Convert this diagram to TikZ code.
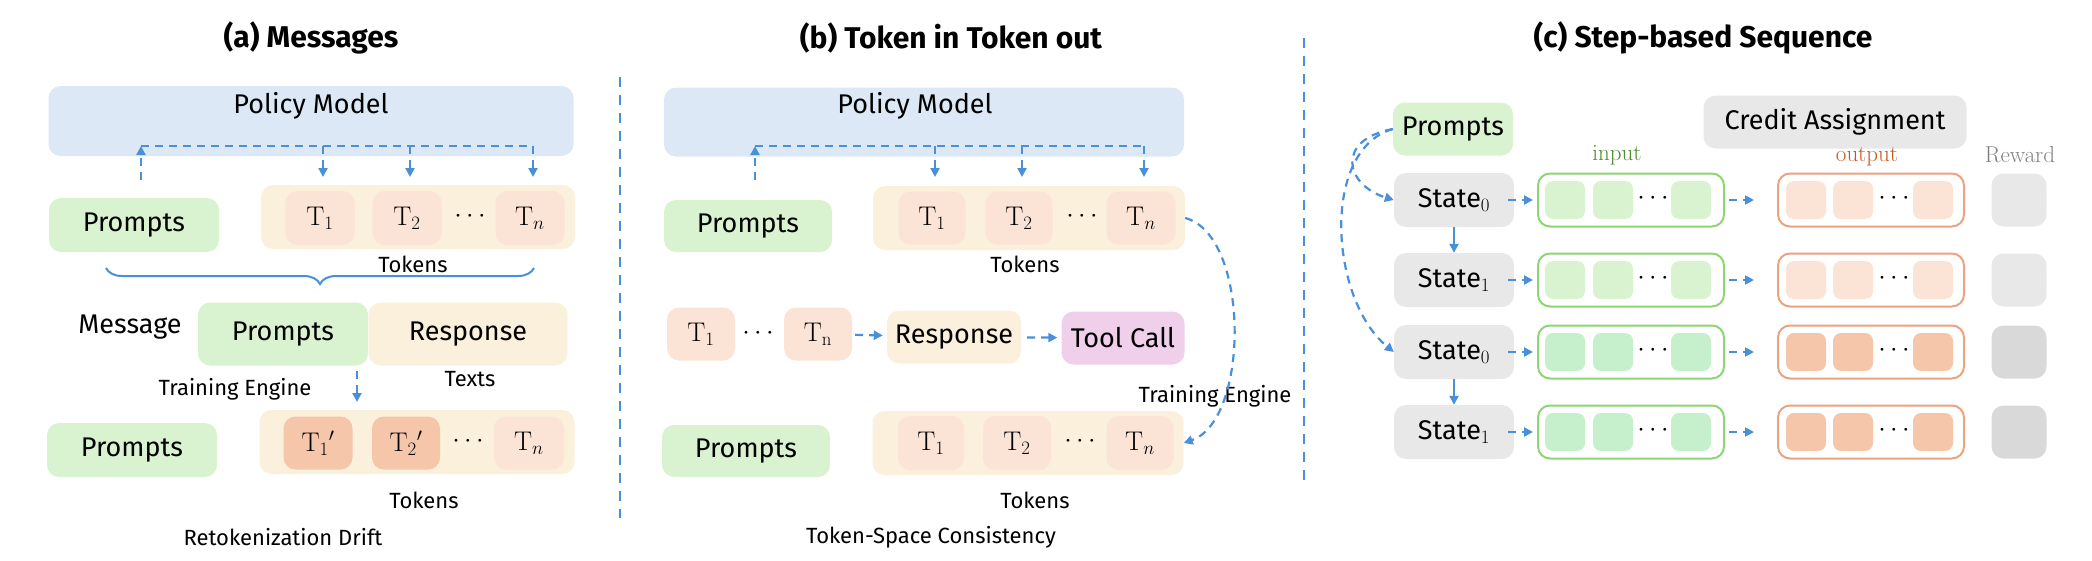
\RequirePackage{fix-cm}
\documentclass[tikz,border=0pt]{standalone}
\usepackage[no-math]{fontspec}
\setmainfont{Fira Sans}
\usetikzlibrary{positioning, arrows.meta, decorations.pathreplacing}

\definecolor{policyblue}{HTML}{DCE8F5}
\definecolor{promptgreen}{HTML}{D9F2D0}
\definecolor{tokbg}{HTML}{FAF0DC}
\definecolor{tokcell}{HTML}{FBE3D6}
\definecolor{tokdark}{HTML}{F6C6AB}
\definecolor{toolpink}{HTML}{F0CFEA}
\definecolor{stategray}{HTML}{E8E8E8}
\definecolor{rewarddark}{HTML}{D9D9D9}
\definecolor{flowblue}{HTML}{4A90D9}
\definecolor{inframe}{HTML}{8BD672}
\definecolor{incell}{HTML}{C6EFCB}
\definecolor{outframe}{HTML}{EBA27F}
\definecolor{inlabel}{HTML}{4E8A2E}
\definecolor{outlabel}{HTML}{C8571D}

\tikzset{
  box/.style = {rounded corners=12pt, inner sep=0pt, align=center},
  title/.style = {font=\fontsize{30}{34}\selectfont\bfseries},
  big/.style = {font=\fontsize{27}{30}\selectfont},
  small/.style = {font=\fontsize{22}{26}\selectfont},
  serifnote/.style = {font=\fontsize{23}{26}\selectfont},
  flow/.style = {flowblue, line width=2.2pt, dash pattern=on 8pt off 6pt,
                 -{Triangle[length=9pt,width=9pt]}},
}

\begin{document}
\begin{tikzpicture}[x=1pt, y=-1pt]
  \useasboundingbox (0,0) rectangle (2092,560);

  % dividers
  \draw[flowblue, line width=2pt, dash pattern=on 10pt off 8pt] (620,77) -- (620,518);
  \draw[flowblue, line width=2pt, dash pattern=on 10pt off 8pt] (1304,38) -- (1304,480);

  % ---------------- (a) Messages
  \node[title] (titleA) at (311,38) {(a) Messages};
  \node[box, fill=policyblue, minimum width=525pt, minimum height=70pt] (policyA) at (311,121) {};
  \node[big] at (311,106) {Policy Model};
  \node[box, fill=promptgreen, minimum width=170pt, minimum height=54pt, big] (promptA) at (134,225) {Prompts};
  \node[box, fill=tokbg, minimum width=314pt, minimum height=64pt] (tokA) at (418,217) {};
  \node[box, fill=tokcell, minimum width=69pt, minimum height=54pt, big] (a1) at (320,218) {$\mathrm{T}_1$};
  \node[box, fill=tokcell, minimum width=69pt, minimum height=54pt, big] (a2) at (407,218) {$\mathrm{T}_2$};
  \node[big] (ad) at (470,216) {$\cdots$};
  \node[box, fill=tokcell, minimum width=69pt, minimum height=54pt, big] (an) at (530,218) {$\mathrm{T}_n$};
  \node[small] (tokLabA) at (413,264) {Tokens};
  \coordinate (hubA) at (141,146);
  \draw[flow] (141,180) -- (hubA);
  \draw[flowblue, line width=2.2pt, dash pattern=on 8pt off 6pt] (hubA) -- (533,146);
  \foreach \x in {323,410,533} \draw[flow] (\x,146) -- (\x,177);
  \draw[flowblue, line width=2pt, decorate, decoration={brace, mirror, amplitude=16pt}] (106,268) -- (534,268);

  \node[big] (msg) at (130,327) {Message};
  \node[box, fill=promptgreen, minimum width=170pt, minimum height=63pt, big] (promptA2) at (283,334) {Prompts};
  \node[box, fill=tokbg, minimum width=199pt, minimum height=63pt, big] (respA) at (468,334) {Response};
  \node[small] (textsA) at (470,379) {Texts};
  \node[small] (trainA) at (235,389) {Training Engine};
  \coordinate (dropA) at (357,371);
  \draw[flow] (dropA) -- (357,402);

  \node[box, fill=promptgreen, minimum width=170pt, minimum height=54pt, big] (promptA3) at (132,450) {Prompts};
  \node[box, fill=tokbg, minimum width=315pt, minimum height=64pt] (tokA3) at (417,442) {};
  \node[box, fill=tokdark, minimum width=69pt, minimum height=53pt, big] (b1) at (318,443) {$\mathrm{T}_1{}'$};
  \node[box, fill=tokdark, minimum width=68pt, minimum height=53pt, big] (b2) at (406,443) {$\mathrm{T}_2{}'$};
  \node[big] (bd) at (468,441) {$\cdots$};
  \node[box, fill=tokcell, minimum width=70pt, minimum height=53pt, big] (bn) at (529,443) {$\mathrm{T}_n$};
  \node[small] (tokLabA3) at (424,500) {Tokens};
  \node[small] (driftA) at (283,537) {Retokenization Drift};

  % ---------------- (b) Token in Token out
  \node[title] (titleB) at (951,38) {(b) Token in Token out};
  \node[box, fill=policyblue, minimum width=520pt, minimum height=69pt] (policyB) at (924,122) {};
  \node[big] at (915,106) {Policy Model};
  \node[box, fill=promptgreen, minimum width=168pt, minimum height=52pt, big] (promptB) at (748,226) {Prompts};
  \node[box, fill=tokbg, minimum width=312pt, minimum height=64pt] (tokB) at (1029,218) {};
  \node[box, fill=tokcell, minimum width=67pt, minimum height=53pt, big] (c1) at (932,218) {$\mathrm{T}_1$};
  \node[box, fill=tokcell, minimum width=67pt, minimum height=53pt, big] (c2) at (1019,218) {$\mathrm{T}_2$};
  \node[big] (cd) at (1082,216) {$\cdots$};
  \node[box, fill=tokcell, minimum width=69pt, minimum height=53pt, big] (cn) at (1141,218) {$\mathrm{T}_n$};
  \node[small] (tokLabB) at (1025,264) {Tokens};
  \coordinate (hubB) at (755,146);
  \draw[flow] (755,180) -- (hubB);
  \draw[flowblue, line width=2.2pt, dash pattern=on 8pt off 6pt] (hubB) -- (1144,146);
  \foreach \x in {935,1022,1144} \draw[flow] (\x,146) -- (\x,177);

  \node[box, fill=tokcell, minimum width=68pt, minimum height=53pt, big] (d1) at (701,334) {$\mathrm{T}_1$};
  \node[big] (dd) at (758,333) {$\cdots$};
  \node[box, fill=tokcell, minimum width=68pt, minimum height=53pt, big] (dn) at (818,334) {$\mathrm{T}_\mathrm{n}$};
  \node[box, fill=tokbg, minimum width=134pt, minimum height=53pt, big] (respB) at (954,337) {Response};
  \node[box, fill=toolpink, minimum width=123pt, minimum height=53pt, big] (toolB) at (1123,338) {Tool Call};
  \draw[flow, shorten <=3pt, shorten >=4pt] (dn) -- (respB);
  \draw[flow, shorten <=6pt, shorten >=4pt] (respB) -- (toolB);

  \node[box, fill=promptgreen, minimum width=168pt, minimum height=52pt, big] (promptB3) at (746,451) {Prompts};
  \node[box, fill=tokbg, minimum width=311pt, minimum height=64pt] (tokB3) at (1028,443) {};
  \node[box, fill=tokcell, minimum width=66pt, minimum height=54pt, big] (e1) at (931,443) {$\mathrm{T}_1$};
  \node[box, fill=tokcell, minimum width=68pt, minimum height=54pt, big] (e2) at (1017,443) {$\mathrm{T}_2$};
  \node[big] (ed) at (1080,441) {$\cdots$};
  \node[box, fill=tokcell, minimum width=67pt, minimum height=54pt, big] (en) at (1140,443) {$\mathrm{T}_n$};
  \node[small] (tokLabB3) at (1035,500) {Tokens};
  \node[small] (consB) at (931,537) {Token-Space Consistency};
  \node[small] (trainB) at (1215,396) {Training Engine};
  \draw[flow] (tokB.east) .. controls (1250,235) and (1250,420) .. (tokB3.east);

  % ---------------- (c) Step-based Sequence
  \node[title] (titleC) at (1703,38) {(c) Step-based Sequence};
  \node[box, fill=promptgreen, minimum width=120pt, minimum height=53pt, big] (promptC) at (1453,129) {Prompts};
  \node[box, fill=stategray, minimum width=263pt, minimum height=53pt, big] (credit) at (1835,122) {Credit Assignment};
  \node[serifnote, text=inlabel] (inLab) at (1617,155) {$\mathrm{input}$};
  \node[serifnote, text=outlabel] (outLab) at (1867,157) {$\mathrm{output}$};
  \node[serifnote, text=gray] (rewLab) at (2020,155) {$\mathrm{Reward}$};

  \foreach \i/\y/\s/\ic/\oc/\rc in {1/200/0/promptgreen/tokcell/stategray,
                                    2/280/1/promptgreen/tokcell/stategray,
                                    3/352/0/incell/tokdark/rewarddark,
                                    4/432/1/incell/tokdark/rewarddark} {
    \node[box, fill=stategray, minimum width=120pt, minimum height=54pt, big] (state\i) at (1454,\y) {State$_{\s}$};
    \node[box, draw=inframe, line width=2pt, minimum width=186pt, minimum height=53pt] (in\i) at (1631,\y) {};
    \foreach \x in {1565,1613,1691}
      \node[box, rounded corners=8pt, fill=\ic, minimum width=40pt, minimum height=38pt] at (\x,\y) {};
    \node[big] at (1653,\y-2) {$\cdots$};
    \node[box, draw=outframe, line width=2pt, minimum width=186pt, minimum height=53pt] (out\i) at (1871,\y) {};
    \foreach \x in {1806,1853,1933}
      \node[box, rounded corners=8pt, fill=\oc, minimum width=40pt, minimum height=38pt] at (\x,\y) {};
    \node[big] at (1894,\y-2) {$\cdots$};
    \node[box, fill=\rc, minimum width=55pt, minimum height=53pt] (rew\i) at (2019,\y) {};
    \draw[flow, shorten <=-6pt, shorten >=4pt] (state\i) -- (in\i);
    \coordinate (gap\i) at (1754,\y);
    \draw[flow, shorten <=4pt] (in\i) -- (gap\i);
  }
  \draw[flow, dash pattern=] (state1) -- (state2);
  \draw[flow, dash pattern=] (state3) -- (state4);
  \draw[flow] (promptC.west) .. controls (1335,140) and (1345,185) .. (state1.west);
  \draw[flow] (promptC.west) .. controls (1320,150) and (1330,300) .. (state3.west);
\end{tikzpicture}
\end{document}
